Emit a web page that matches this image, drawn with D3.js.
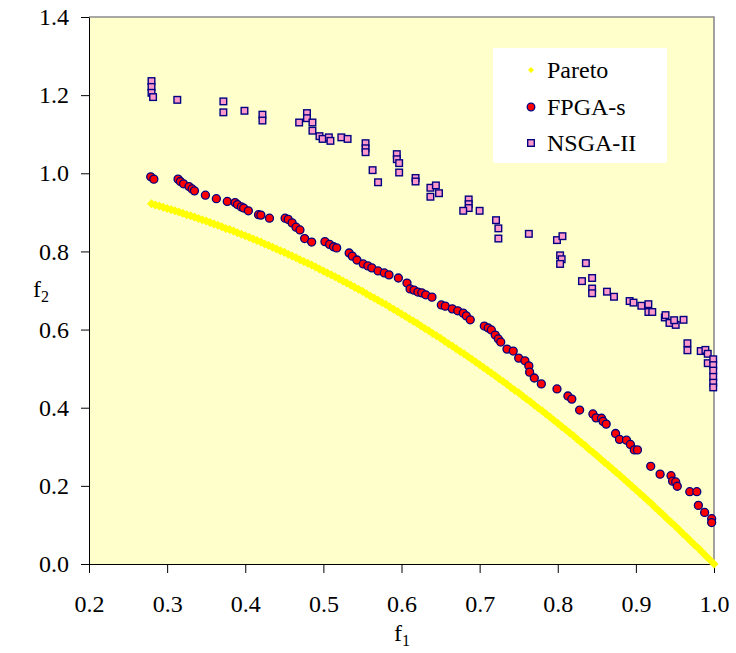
<!DOCTYPE html>
<html>
<head>
<meta charset="utf-8">
<script src="https://cdn.jsdelivr.net/npm/d3@7/dist/d3.min.js"></script>
<style>
  html, body { margin: 0; padding: 0; background: #ffffff; }
  svg { display: block; }
  text { font-family: "Liberation Serif", "Times New Roman", serif; fill: #000; }
</style>
</head>
<body>
<svg id="chart" width="736" height="653"></svg>
<script>
// ---------------- data ----------------
const seriesNames = ["Pareto", "FPGA-s", "NSGA-II"];
const xTicks = [0.2, 0.3, 0.4, 0.5, 0.6, 0.7, 0.8, 0.9, 1.0];
const yTicks = [0.0, 0.2, 0.4, 0.6, 0.8, 1.0, 1.2, 1.4];

const paretoF1 = [0.280,0.285,0.290,0.295,0.300,0.305,0.310,0.315,0.320,0.325,0.330,0.335,0.340,0.345,0.350,0.355,0.360,0.365,0.370,0.375,0.380,0.385,0.390,0.395,0.400,0.405,0.410,0.415,0.420,0.425,0.430,0.435,0.440,0.445,0.450,0.455,0.460,0.465,0.470,0.475,0.480,0.485,0.490,0.495,0.500,0.505,0.510,0.515,0.520,0.525,0.530,0.535,0.540,0.545,0.550,0.555,0.560,0.565,0.570,0.575,0.580,0.585,0.590,0.595,0.600,0.605,0.610,0.615,0.620,0.625,0.630,0.635,0.640,0.645,0.650,0.655,0.660,0.665,0.670,0.675,0.680,0.685,0.690,0.695,0.700,0.705,0.710,0.715,0.720,0.725,0.730,0.735,0.740,0.745,0.750,0.755,0.760,0.765,0.770,0.775,0.780,0.785,0.790,0.795,0.800,0.805,0.810,0.815,0.820,0.825,0.830,0.835,0.840,0.845,0.850,0.855,0.860,0.865,0.870,0.875,0.880,0.885,0.890,0.895,0.900,0.905,0.910,0.915,0.920,0.925,0.930,0.935,0.940,0.945,0.950,0.955,0.960,0.965,0.970,0.975,0.980,0.985,0.990,0.995,1.000];
const paretoF2 = [0.922,0.919,0.916,0.913,0.910,0.907,0.904,0.901,0.898,0.894,0.891,0.888,0.884,0.881,0.878,0.874,0.870,0.867,0.863,0.859,0.856,0.852,0.848,0.844,0.840,0.836,0.832,0.828,0.824,0.819,0.815,0.811,0.806,0.802,0.798,0.793,0.788,0.784,0.779,0.774,0.770,0.765,0.760,0.755,0.750,0.745,0.740,0.735,0.730,0.724,0.719,0.714,0.708,0.703,0.698,0.692,0.686,0.681,0.675,0.669,0.664,0.658,0.652,0.646,0.640,0.634,0.628,0.622,0.616,0.609,0.603,0.597,0.590,0.584,0.578,0.571,0.564,0.558,0.551,0.544,0.538,0.531,0.524,0.517,0.510,0.503,0.496,0.489,0.482,0.474,0.467,0.460,0.452,0.445,0.438,0.430,0.422,0.415,0.407,0.399,0.392,0.384,0.376,0.368,0.360,0.352,0.344,0.336,0.328,0.319,0.311,0.303,0.294,0.286,0.278,0.269,0.260,0.252,0.243,0.234,0.226,0.217,0.208,0.199,0.190,0.181,0.172,0.163,0.154,0.144,0.135,0.126,0.116,0.107,0.098,0.088,0.078,0.069,0.059,0.049,0.040,0.030,0.020,0.010,0.000];

const fpgaF1 = [0.279,0.283,0.314,0.317,0.321,0.328,0.332,0.335,0.349,0.363,0.377,0.387,0.390,0.395,0.398,0.404,0.417,0.420,0.431,0.451,0.455,0.460,0.465,0.470,0.476,0.485,0.502,0.508,0.513,0.517,0.533,0.537,0.543,0.551,0.557,0.562,0.570,0.578,0.584,0.596,0.607,0.611,0.616,0.621,0.626,0.631,0.639,0.651,0.656,0.665,0.672,0.679,0.683,0.688,0.706,0.711,0.715,0.720,0.724,0.727,0.735,0.743,0.750,0.758,0.763,0.764,0.770,0.779,0.799,0.813,0.818,0.828,0.845,0.849,0.856,0.858,0.862,0.874,0.879,0.888,0.893,0.898,0.902,0.919,0.931,0.945,0.947,0.951,0.953,0.969,0.978,0.980,0.988,0.997,0.997];
const fpgaF2 = [0.991,0.985,0.985,0.979,0.973,0.966,0.960,0.955,0.944,0.935,0.928,0.925,0.920,0.914,0.911,0.904,0.894,0.893,0.885,0.885,0.882,0.873,0.862,0.855,0.833,0.824,0.825,0.818,0.812,0.809,0.796,0.788,0.778,0.768,0.763,0.758,0.750,0.745,0.740,0.732,0.719,0.704,0.701,0.696,0.694,0.689,0.683,0.663,0.660,0.653,0.648,0.642,0.635,0.625,0.609,0.604,0.599,0.586,0.576,0.568,0.550,0.545,0.527,0.520,0.507,0.491,0.476,0.461,0.448,0.430,0.422,0.394,0.384,0.374,0.373,0.365,0.358,0.334,0.319,0.317,0.306,0.292,0.292,0.250,0.230,0.226,0.212,0.210,0.199,0.185,0.185,0.150,0.132,0.116,0.106];

const nsgaF1 = [0.280,0.280,0.280,0.282,0.313,0.372,0.372,0.399,0.422,0.422,0.469,0.479,0.479,0.486,0.486,0.495,0.499,0.507,0.509,0.523,0.531,0.554,0.554,0.554,0.563,0.570,0.594,0.594,0.597,0.597,0.618,0.618,0.637,0.644,0.648,0.637,0.686,0.686,0.686,0.679,0.700,0.721,0.724,0.724,0.763,0.799,0.806,0.803,0.805,0.803,0.836,0.831,0.844,0.844,0.844,0.863,0.872,0.892,0.897,0.907,0.916,0.916,0.921,0.937,0.938,0.943,0.951,0.949,0.961,0.966,0.966,0.983,0.989,0.992,0.992,0.999,0.999,0.999,0.999,0.999,0.999];
const nsgaF2 = [1.236,1.221,1.206,1.195,1.188,1.184,1.156,1.160,1.150,1.135,1.130,1.154,1.141,1.130,1.109,1.095,1.088,1.092,1.083,1.092,1.088,1.077,1.064,1.054,1.008,0.977,1.049,1.036,1.026,1.002,0.988,0.979,0.963,0.969,0.949,0.940,0.933,0.921,0.911,0.904,0.904,0.880,0.859,0.833,0.845,0.829,0.839,0.790,0.780,0.768,0.770,0.724,0.732,0.705,0.693,0.697,0.684,0.673,0.669,0.661,0.665,0.645,0.645,0.631,0.637,0.617,0.612,0.624,0.625,0.565,0.547,0.545,0.548,0.538,0.514,0.524,0.509,0.495,0.479,0.464,0.452];

// ---------------- layout ----------------
const svg = d3.select("#chart");
const L = 89, R = 714, T = 17, B = 564;
const x = d3.scaleLinear().domain([0.2, 1.0]).range([L, R]);
const y = d3.scaleLinear().domain([0, 1.4]).range([B, T]);

svg.append("rect").attr("x", 0).attr("y", 0).attr("width", 736).attr("height", 653).attr("fill", "#ffffff");
svg.append("rect").attr("x", L).attr("y", T).attr("width", R - L).attr("height", B - T).attr("fill", "#FFFFCC");
// gray top/right border
svg.append("path").attr("d", `M${L},${T}H${R}V${B}`).attr("fill", "none").attr("stroke", "#8c8c8c").attr("stroke-width", 1.6);

// axes
const xAxis = d3.axisBottom(x).tickValues(xTicks).tickFormat(d3.format(".1f")).tickSize(9).tickSizeOuter(0).tickPadding(22);
const yAxis = d3.axisLeft(y).tickValues(yTicks).tickFormat(d3.format(".1f")).tickSize(8).tickSizeOuter(0).tickPadding(12);

const gx = svg.append("g").attr("transform", `translate(0,${B})`).call(xAxis);
const gy = svg.append("g").attr("transform", `translate(${L},0)`).call(yAxis);
[gx, gy].forEach(g => {
  g.selectAll("text").style("font-family", '"Liberation Serif", "Times New Roman", serif').style("font-size", "24px").attr("fill", "#000");
  g.selectAll("line").attr("stroke", "#000");
  g.select(".domain").attr("stroke", "#000");
});

// axis titles
const xt = svg.append("text").attr("x", 402).attr("y", 641).attr("text-anchor", "middle").style("font-size", "24px");
xt.append("tspan").text("f");
xt.append("tspan").attr("dy", 5).style("font-size", "16px").text("1");
const yt = svg.append("text").attr("x", 41).attr("y", 297).attr("text-anchor", "middle").style("font-size", "24px");
yt.append("tspan").text("f");
yt.append("tspan").attr("dy", 5).style("font-size", "16px").text("2");

// markers
const diamond = r => `M0,${-r}L${r},0L0,${r}L${-r},0Z`;
const plot = svg.append("g");

const paretoData = paretoF1.map((v, i) => [v, paretoF2[i]]);
const fpgaData = fpgaF1.map((v, i) => [v, fpgaF2[i]]);
const nsgaData = nsgaF1.map((v, i) => [v, nsgaF2[i]]);

plot.append("g").selectAll("path").data(paretoData).join("path")
  .attr("d", diamond(4.5))
  .attr("transform", d => `translate(${x(d[0])},${y(d[1])})`)
  .attr("fill", "#FFFF00");

plot.append("g").selectAll("circle").data(fpgaData).join("circle")
  .attr("cx", d => x(d[0])).attr("cy", d => y(d[1])).attr("r", 4)
  .attr("fill", "#FF0000").attr("stroke", "#000080").attr("stroke-width", 1.3);

const sq = 6.6;
plot.append("g").selectAll("rect").data(nsgaData).join("rect")
  .attr("x", d => x(d[0]) - sq / 2).attr("y", d => y(d[1]) - sq / 2)
  .attr("width", sq).attr("height", sq)
  .attr("fill", "#FF99CC").attr("stroke", "#000080").attr("stroke-width", 1.4);

// legend
const lg = svg.append("g");
lg.append("rect").attr("x", 493).attr("y", 48).attr("width", 174).attr("height", 115).attr("fill", "#ffffff");
const legY = [70, 107, 143];
lg.append("path").attr("d", diamond(3)).attr("transform", `translate(531,${legY[0]})`).attr("fill", "#FFFF00");
lg.append("circle").attr("cx", 531).attr("cy", legY[1]).attr("r", 3.8).attr("fill", "#FF0000").attr("stroke", "#000080").attr("stroke-width", 1.3);
lg.append("rect").attr("x", 531 - 3.3).attr("y", legY[2] - 3.3).attr("width", 6.6).attr("height", 6.6).attr("fill", "#FF99CC").attr("stroke", "#000080").attr("stroke-width", 1.4);
seriesNames.forEach((n, i) => {
  lg.append("text").attr("x", 547).attr("y", legY[i]).attr("dy", "0.35em").style("font-size", "24px").text(n);
});
</script>
</body>
</html>
